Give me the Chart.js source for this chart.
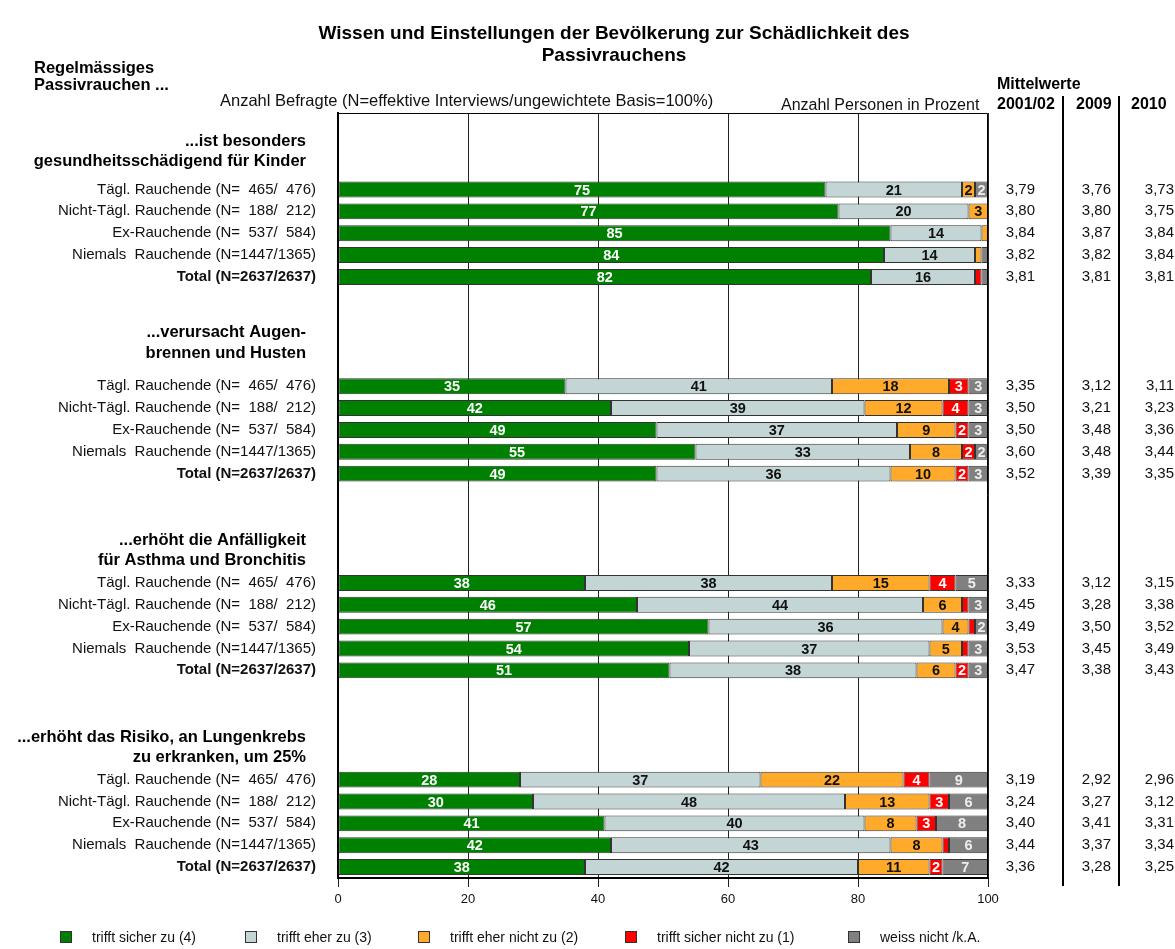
<!DOCTYPE html>
<html>
<head>
<meta charset="utf-8">
<title>Passivrauchen</title>
<script src="https://cdn.jsdelivr.net/npm/chart.js@4.4.1/dist/chart.umd.min.js"></script>
<style>
  html, body { margin: 0; padding: 0; background: #fff; }
  canvas { display: block; }
</style>
</head>
<body>
<canvas id="passivChart" width="1175" height="949"></canvas>
<script>
// Wissen und Einstellungen zum Passivrauchen - gestapelte Balken je Aussage
const statements = [
    ['...ist besonders', 'gesundheitsschädigend für Kinder'],
    ['...verursacht Augen-', 'brennen und Husten'],
    ['...erhöht die Anfälligkeit', 'für Asthma und Bronchitis'],
    ['...erhöht das Risiko, an Lungenkrebs', 'zu erkranken, um 25%']
];
const groupLabels = [
    'Tägl. Rauchende (N=  465/  476)',
    'Nicht-Tägl. Rauchende (N=  188/  212)',
    'Ex-Rauchende (N=  537/  584)',
    'Niemals  Rauchende (N=1447/1365)',
    'Total (N=2637/2637)'
];
const seriesNames = ['trifft sicher zu (4)', 'trifft eher zu (3)', 'trifft eher nicht zu (2)', 'trifft sicher nicht zu (1)', 'weiss nicht /k.A.'];

// Prozentwerte, je 5 Zeilen pro Aussage
const sicherZu    = [75, 77, 85, 84, 82,  35, 42, 49, 55, 49,  38, 46, 57, 54, 51,  28, 30, 41, 42, 38];
const eherZu      = [21, 20, 14, 14, 16,  41, 39, 37, 33, 36,  38, 44, 36, 37, 38,  37, 48, 40, 43, 42];
const eherNicht   = [ 2,  3,  1,  1,  0,  18, 12,  9,  8, 10,  15,  6,  4,  5,  6,  22, 13,  8,  8, 11];
const sicherNicht = [ 0,  0,  0,  0,  1,   3,  4,  2,  2,  2,   4,  1,  1,  1,  2,   4,  3,  3,  1,  2];
const weissNicht  = [ 2,  0,  0,  1,  1,   3,  3,  3,  2,  3,   5,  3,  2,  3,  3,   9,  6,  8,  6,  7];

// Mittelwerte
const mean2001 = ['3,79', '3,80', '3,84', '3,82', '3,81',  '3,35', '3,50', '3,50', '3,60', '3,52',  '3,33', '3,45', '3,49', '3,53', '3,47',  '3,19', '3,24', '3,40', '3,44', '3,36'];
const mean2009 = ['3,76', '3,80', '3,87', '3,82', '3,81',  '3,12', '3,21', '3,48', '3,48', '3,39',  '3,12', '3,28', '3,50', '3,45', '3,38',  '2,92', '3,27', '3,41', '3,37', '3,28'];
const mean2010 = ['3,73', '3,75', '3,84', '3,84', '3,81',  '3,11', '3,23', '3,36', '3,44', '3,35',  '3,15', '3,38', '3,52', '3,49', '3,43',  '2,96', '3,12', '3,31', '3,34', '3,25'];
const meanYears = ['2001/02', '2009', '2010'];

const xTicks = [0, 20, 40, 60, 80, 100];

const colors = ['#008000', '#c3d6d5', '#ffaa2a', '#ff0000', '#808080'];
const valueColors = ['#ffffff', '#111111', '#111111', '#ffffff', '#eeeeee'];

const FONT = '"Liberation Sans", Arial, Helvetica, sans-serif';

// Zeilenplätze: 3 leere vor der ersten Aussage, danach je 4 leere
const SLOTS = 35;
function slotOf(g, r) {
    return g === 0 ? 3 + r : 8 + (g - 1) * 9 + 4 + r;
}

const slotLabels = new Array(SLOTS).fill('');
const rowSlots = [];
statements.forEach((s, g) => {
    groupLabels.forEach((label, r) => {
        slotLabels[slotOf(g, r)] = label;
        rowSlots.push(slotOf(g, r));
    });
});

function toSlots(values) {
    const out = new Array(SLOTS).fill(null);
    values.forEach((v, i) => { out[rowSlots[i]] = v; });
    return out;
}

const allSeries = [sicherZu, eherZu, eherNicht, sicherNicht, weissNicht];

const datasets = allSeries.map((values, i) => ({
    label: seriesNames[i],
    data: toSlots(values),
    backgroundColor: colors[i],
    borderColor: '#333333',
    borderWidth: 1,
    borderSkipped: false,
    barPercentage: 0.73,
    categoryPercentage: 1.0
}));

// Zahlen in den Segmenten
const segmentLabels = {
    id: 'segmentLabels',
    afterDatasetsDraw(chart) {
        const ctx = chart.ctx;
        ctx.save();
        ctx.font = 'bold 14.5px ' + FONT;
        ctx.textAlign = 'center';
        ctx.textBaseline = 'middle';
        chart.data.datasets.forEach((ds, i) => {
            const meta = chart.getDatasetMeta(i);
            meta.data.forEach((el, j) => {
                const v = ds.data[j];
                if (v == null || v < 2) return;
                const p = el.getProps(['x', 'y', 'base'], true);
                ctx.fillStyle = valueColors[i];
                ctx.fillText(String(v), (p.x + p.base) / 2, p.y + 1);
            });
        });
        ctx.restore();
    }
};

// Titel, Kopfzeilen, Mittelwerte und Legende
const extras = {
    id: 'extras',
    afterDraw(chart) {
        const ctx = chart.ctx;
        const area = chart.chartArea;
        const yScale = chart.scales.y;
        ctx.save();

        // Rahmen oben und rechts
        ctx.strokeStyle = '#000';
        ctx.lineWidth = 1;
        ctx.beginPath();
        ctx.moveTo(area.left, area.top + 0.5);
        ctx.lineTo(area.right - 0.5, area.top + 0.5);
        ctx.lineTo(area.right - 0.5, area.bottom);
        ctx.stroke();

        ctx.fillStyle = '#000';
        ctx.textBaseline = 'middle';

        ctx.textAlign = 'center';
        ctx.font = 'bold 19px ' + FONT;
        ctx.fillText('Wissen und Einstellungen der Bevölkerung zur Schädlichkeit des', 614, 34);
        ctx.fillText('Passivrauchens', 614, 56);

        ctx.textAlign = 'left';
        ctx.font = 'bold 16.5px ' + FONT;
        ctx.fillText('Regelmässiges', 34, 68);
        ctx.fillText('Passivrauchen ...', 34, 85);

        ctx.fillStyle = '#111';
        ctx.font = '16.5px ' + FONT;
        ctx.fillText('Anzahl Befragte (N=effektive Interviews/ungewichtete Basis=100%)', 220, 101);
        ctx.font = '16px ' + FONT;
        ctx.fillText('Anzahl Personen in Prozent', 781, 106);

        // Aussagen
        const headerOffsets = [[-48, -28], [-54, -33], [-42, -22], [-42, -22]];
        ctx.fillStyle = '#000';
        ctx.textAlign = 'right';
        ctx.font = 'bold 16.5px ' + FONT;
        statements.forEach((lines, g) => {
            const y0 = yScale.getPixelForValue(slotOf(g, 0));
            lines.forEach((line, k) => ctx.fillText(line, 306, y0 + headerOffsets[g][k]));
        });

        // Mittelwerte
        ctx.textAlign = 'left';
        ctx.font = 'bold 16px ' + FONT;
        ctx.fillText('Mittelwerte', 997, 85);
        const headX = [997, 1076, 1131];
        meanYears.forEach((yr, i) => ctx.fillText(yr, headX[i], 105));

        ctx.lineWidth = 2;
        [1063, 1119].forEach(x => {
            ctx.beginPath();
            ctx.moveTo(x, 96);
            ctx.lineTo(x, 886);
            ctx.stroke();
        });

        ctx.textAlign = 'right';
        ctx.font = '15px ' + FONT;
        ctx.fillStyle = '#111';
        const colX = [1035, 1111, 1174];
        [mean2001, mean2009, mean2010].forEach((col, c) => {
            col.forEach((v, i) => {
                ctx.fillText(v, colX[c], yScale.getPixelForValue(rowSlots[i]));
            });
        });

        // Legende
        const legendX = [60, 245, 418, 625, 848];
        ctx.textAlign = 'left';
        ctx.font = '14px ' + FONT;
        seriesNames.forEach((name, i) => {
            ctx.fillStyle = colors[i];
            ctx.fillRect(legendX[i], 931, 12, 12);
            ctx.strokeStyle = '#333';
            ctx.lineWidth = 1;
            ctx.strokeRect(legendX[i] + 0.5, 931.5, 11, 11);
            ctx.fillStyle = '#111';
            ctx.fillText(name, legendX[i] + 32, 938);
        });

        ctx.restore();
    }
};

new Chart(document.getElementById('passivChart'), {
    type: 'bar',
    data: { labels: slotLabels, datasets: datasets },
    plugins: [segmentLabels, extras],
    options: {
        indexAxis: 'y',
        responsive: false,
        animation: false,
        layout: { padding: { top: 113, right: 187, left: 0, bottom: 0 } },
        plugins: {
            legend: { display: false },
            tooltip: { enabled: false },
            title: { display: false }
        },
        scales: {
            x: {
                stacked: true,
                min: 0,
                max: 100,
                afterBuildTicks(scale) {
                    scale.ticks = xTicks.map(v => ({ value: v }));
                },
                afterFit(scale) { scale.height = 71; },
                grid: {
                    color: '#222',
                    lineWidth: 1,
                    drawTicks: true,
                    tickLength: 9,
                    tickColor: '#222'
                },
                border: { display: true, color: '#000', width: 2 },
                ticks: {
                    padding: 5,
                    color: '#111',
                    font: { family: FONT, size: 13 }
                }
            },
            y: {
                stacked: true,
                afterFit(scale) { scale.width = 338; },
                grid: { display: false, drawTicks: false },
                border: { display: true, color: '#000', width: 2 },
                ticks: {
                    autoSkip: false,
                    padding: 22,
                    color: '#111',
                    font(ctx) {
                        const lbl = ctx.tick && ctx.tick.label ? String(ctx.tick.label) : '';
                        return { family: FONT, size: 15, weight: lbl.startsWith('Total') ? 'bold' : 'normal' };
                    }
                }
            }
        }
    }
});
</script>
</body>
</html>
